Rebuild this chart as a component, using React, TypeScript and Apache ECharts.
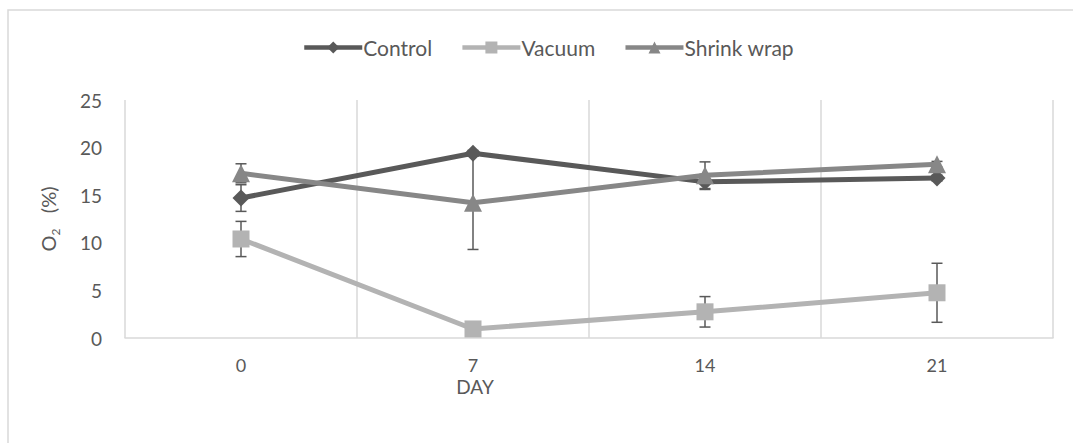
import React, { useEffect, useRef } from "react";
import * as echarts from "echarts";

const days = ["0", "7", "14", "21"];
const seriesNames = ["Control", "Vacuum", "Shrink wrap"];
const control = [14.7, 19.4, 16.4, 16.8];
const controlErr = [1.4, 0.3, 0.8, 0.3];
const vacuum = [10.4, 0.95, 2.75, 4.75];
const vacuumErr = [1.85, 0.3, 1.6, 3.1];
const shrink = [17.3, 14.2, 17.1, 18.25];
const shrinkErr = [1.0, 4.9, 1.4, 0.3];
const yMin = 0;
const yMax = 25;
const yStep = 5;

const colors = ["#595959", "#b3b3b3", "#878787"];
const symbols = ["diamond", "rect", "triangle"];
const FONT = "Lato";

function errData(vals: number[], errs: number[]) {
  return vals.map((v, i) => [i, v - errs[i], v + errs[i]]);
}

const errRender = (params: any, api: any) => {
  const x = api.value(0);
  const lo = api.coord([x, api.value(1)]);
  const hi = api.coord([x, api.value(2)]);
  const w = 5.5;
  const st = { stroke: "#595959", lineWidth: 1.5 };
  return {
    type: "group",
    children: [
      { type: "line", shape: { x1: lo[0], y1: lo[1], x2: hi[0], y2: hi[1] }, style: st },
      { type: "line", shape: { x1: lo[0] - w, y1: lo[1], x2: lo[0] + w, y2: lo[1] }, style: st },
      { type: "line", shape: { x1: hi[0] - w, y1: hi[1], x2: hi[0] + w, y2: hi[1] }, style: st },
    ],
  };
};

export default function App() {
  const ref = useRef<HTMLDivElement>(null);
  useEffect(() => {
    if (!ref.current) return;
    const chart = echarts.init(ref.current, null, { renderer: "svg" });
    const vals = [control, vacuum, shrink];
    const errs = [controlErr, vacuumErr, shrinkErr];
    const lineSeries = seriesNames.map((name, k) => ({
      name,
      type: "line",
      data: vals[k],
      symbol: symbols[k],
      symbolSize: k === 0 ? 17 : k === 1 ? 17 : 18,
      showAllSymbol: true,
      lineStyle: { color: colors[k], width: 5 },
      itemStyle: { color: colors[k] },
      z: 3 + k,
    }));
    const errSeries = seriesNames.map((name, k) => ({
      name: name + " error",
      type: "custom",
      renderItem: errRender,
      data: errData(vals[k], errs[k]),
      encode: { x: 0, y: [1, 2] },
      z: 2,
      silent: true,
    }));
    chart.setOption({
      animation: false,
      backgroundColor: "#ffffff",
      graphic: [
        {
          type: "rect",
          shape: { x: 8, y: 10, width: 1200, height: 600 },
          style: { fill: "none", stroke: "#d9d9d9", lineWidth: 1.5 },
          silent: true,
        },
      ],
      legend: {
        data: seriesNames,
        top: 32,
        left: 297,
        itemWidth: 58,
        itemHeight: 15,
        itemGap: 28,
        lineStyle: { width: 4.5 },
        textStyle: { fontFamily: FONT, fontSize: 21, color: "#595959", padding: [0, 0, 0, -4] },
      },
      grid: { left: 125, right: 20, top: 100, bottom: 105 },
      xAxis: {
        type: "category",
        data: days,
        boundaryGap: true,
        name: "DAY",
        nameLocation: "middle",
        nameGap: 41,
        nameMoveOverlap: false,
        nameTextStyle: { fontFamily: FONT, fontSize: 19, lineHeight: 14, color: "#595959", padding: [0, 228, 0, 0] },
        axisLine: { show: true, lineStyle: { color: "#d9d9d9", width: 1.5 } },
        axisTick: { show: false },
        axisLabel: { fontFamily: FONT, fontSize: 18, lineHeight: 15, color: "#595959", margin: 19 },
        splitLine: { show: true, lineStyle: { color: "#d9d9d9", width: 1.5 } },
      },
      yAxis: {
        type: "value",
        min: yMin,
        max: yMax,
        interval: yStep,
        name: "{n|O}{s|2}{n|   (%)}",
        nameLocation: "middle",
        nameGap: 67,
        nameRotate: 90,
        nameMoveOverlap: false,
        nameTextStyle: {
          color: "#595959",
          rich: {
            n: { fontFamily: FONT, fontSize: 20, color: "#595959", lineHeight: 24, verticalAlign: "bottom" },
            s: { fontFamily: FONT, fontSize: 12, color: "#595959", lineHeight: 24, verticalAlign: "bottom", padding: [0, 0, -3, 0] },
          },
        },
        axisLine: { show: false },
        axisTick: { show: false },
        axisLabel: { fontFamily: FONT, fontSize: 19, color: "#595959", margin: 23 },
        splitLine: { show: false },
      },
      series: [...errSeries, ...lineSeries],
    });
    return () => chart.dispose();
  }, []);
  return (
    <div
      ref={ref}
      style={{ position: "fixed", left: 0, top: 0, width: 1073, height: 443 }}
    />
  );
}
